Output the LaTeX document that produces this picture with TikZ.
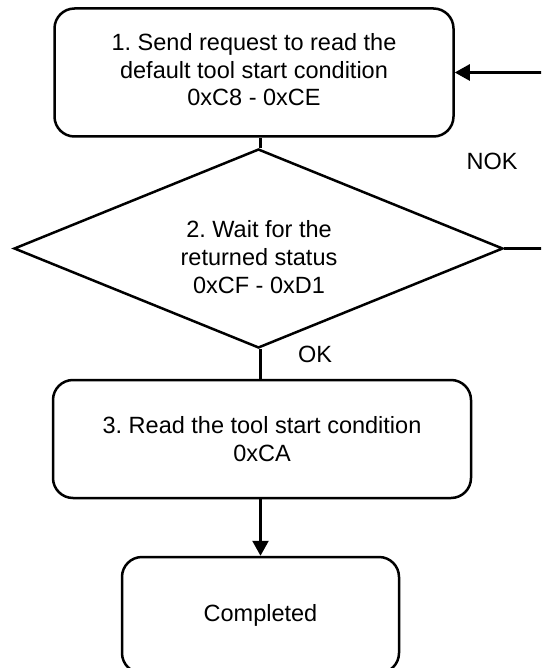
\documentclass[tikz,border=0pt]{standalone}
\usepackage{fontspec}
\setmainfont{Liberation Sans}
\usetikzlibrary{shapes.geometric,arrows.meta}
\frenchspacing
\begin{document}
\begin{tikzpicture}[x=1pt,y=-1pt,
  every node/.style={font=\fontsize{23.5}{27.6}\selectfont, align=center},
  stepbox/.style={draw, line width=2.5pt, rounded corners=20pt, inner sep=0pt},
  decision/.style={draw, shape=diamond, line width=2.5pt, aspect=2.45, inner sep=0pt},
  conn/.style={line width=2.5pt},
  arr/.style={line width=2.5pt, -{Triangle[length=15pt,width=16pt]}},
  lbl/.style={inner sep=0pt}]
\useasboundingbox (0,0) rectangle (541,668);
\clip (0,0) rectangle (541,668);
\node[stepbox, minimum width=399pt, minimum height=128pt] (b1) at (254,72.5)
  {\raisebox{-3pt}{\begin{tabular}{@{}c@{}}1. Send request to read the\\default tool start condition\\0xC8 - 0xCE\end{tabular}}};
\node[decision, minimum width=489pt, minimum height=199pt] (d) at (258.5,248.5) {};
\node[lbl] (dt) at (259,257) {2. Wait for the\\returned status\\0xCF - 0xD1};
\node[stepbox, minimum width=418pt, minimum height=118pt] (b3) at (262,439)
  {3. Read the tool start condition\\0xCA};
\node[stepbox, minimum width=277pt, minimum height=116pt] (b4) at (260.5,615) {Completed};
\node[lbl] (nok) at (492,161) {NOK};
\node[lbl] (ok) at (315,354) {OK};
\draw[conn] (d.north -| b4.north) -- (b1.south -| b4.north);
\draw[conn] (d.south -| b4.north) -- (b3.north -| b4.north);
\draw[arr] (b3.south -| b4.north) -- (b4.north);
\draw[arr] (d.east) -- ++(55,0) |- (b1.east);
\end{tikzpicture}
\end{document}
